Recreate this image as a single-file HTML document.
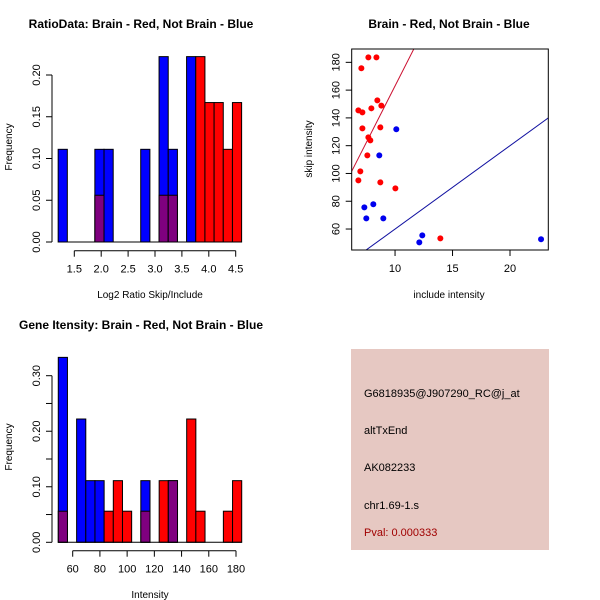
<!DOCTYPE html>
<html><head><meta charset="utf-8"><style>
html,body{margin:0;padding:0;background:#fff;}
svg{display:block;font-family:"Liberation Sans",sans-serif;}
</style></head><body>
<svg id="c" width="600" height="600" viewBox="0 0 600 600">
<rect width="600" height="600" fill="#fff"/>
<text x="141" y="28" text-anchor="middle" font-size="12" font-weight="bold">RatioData: Brain - Red, Not Brain - Blue</text>
<text x="449" y="28" text-anchor="middle" font-size="12" font-weight="bold">Brain - Red, Not Brain - Blue</text>
<text x="141" y="329" text-anchor="middle" font-size="12" font-weight="bold">Gene Itensity: Brain - Red, Not Brain - Blue</text>
<text x="150" y="298" text-anchor="middle" font-size="10">Log2 Ratio Skip/Include</text>
<text x="12" y="147" text-anchor="middle" font-size="10" transform="rotate(-90 12 147)">Frequency</text>
<text x="449" y="298" text-anchor="middle" font-size="10">include intensity</text>
<text x="312" y="149" text-anchor="middle" font-size="10" transform="rotate(-90 312 149)">skip intensity</text>
<text x="150" y="598" text-anchor="middle" font-size="10">Intensity</text>
<text x="12" y="447" text-anchor="middle" font-size="10" transform="rotate(-90 12 447)">Frequency</text>
<g>
<rect x="351" y="349" width="198" height="201" fill="#e6c8c2"/>
<text x="364" y="397" font-size="11">G6818935@J907290_RC@j_at</text>
<text x="364" y="434" font-size="11">altTxEnd</text>
<text x="364" y="471" font-size="11">AK082233</text>
<text x="364" y="509" font-size="11">chr1.69-1.s</text>
<text x="364" y="536" font-size="11" fill="#a00000">Pval: 0.000333</text>
</g>
<g id="g1"></g><g id="g2"></g><g id="g3"></g>
</svg>
<script>
// Ratio histogram data (20 bins starting at 1.2, width 0.1705)
const ratioBlue = [0.111,0,0,0,0.111,0.111,0,0,0,0.111,0,0.222,0.111,0,0.222,0,0,0,0,0];
const ratioRed  = [0,0,0,0,0.056,0,0,0,0,0,0,0.056,0.056,0,0,0.222,0.167,0.167,0.111,0.167];
const ratioXTicks = [1.5,2.0,2.5,3.0,3.5,4.0,4.5];
const ratioXLabels = ["1.5","2.0","2.5","3.0","3.5","4.0","4.5"];
const ratioYTicks = [0,0.05,0.10,0.15,0.20];
const ratioYLabels = ["0.00","0.05","0.10","0.15","0.20"];
// Intensity histogram data (20 bins starting at 49.4, width 6.74)
const intBlue = [0.333,0,0.222,0.111,0.111,0,0,0,0,0.111,0,0,0.111,0,0,0,0,0,0,0];
const intRed  = [0.056,0,0,0,0,0.056,0.111,0.056,0,0.056,0,0.111,0.111,0,0.222,0.056,0,0,0.056,0.111];
const intXTicks = [60,80,100,120,140,160,180];
const intXLabels = ["60","80","100","120","140","160","180"];
const intYTicks = [0,0.05,0.10,0.15,0.20,0.25,0.30];
const intYLabels = ["0.00","","0.10","","0.20","","0.30"];
// Scatter data
const redX = [7.68,8.38,7.07,8.46,7.94,8.81,6.81,7.16,7.16,8.72,7.68,7.85,7.59,6.98,6.81,8.72,10.03,13.94];
const redY = [183.6,183.6,175.7,152.6,146.9,148.8,145.4,144.0,132.5,133.2,126.0,123.8,113.0,101.5,95.0,93.6,89.3,53.3];
const blueX = [10.11,8.63,7.33,8.11,7.5,8.98,12.11,12.37,22.7];
const blueY = [131.8,113.0,75.6,77.8,67.7,67.7,50.4,55.4,52.6];
const redSlope = 16.3, blueSlope = 6.0;
const scXTicks = [10,15,20];
const scYTicks = [60,80,100,120,140,160,180];

const NS="http://www.w3.org/2000/svg";
function mk(parent,tag,attrs){const e=document.createElementNS(NS,tag);for(const k in attrs)e.setAttribute(k,attrs[k]);parent.appendChild(e);return e;}

function hist(g,blue,red,x0,bw,xmin,xmax,xTicks,xLabels,yTicks,yLabels,px0,px1,base,yTop,yTopVal,axY,prefix){
  const sx=v=>px0+(v-xmin)/(xmax-xmin)*(px1-px0);
  const sy=v=>base-(v/yTopVal)*(base-yTop);
  for(let i=0;i<blue.length;i++){
    const l=sx(x0+i*bw), r=sx(x0+(i+1)*bw);
    const b=blue[i], rd=red[i];
    const lo=Math.min(b,rd), hi=Math.max(b,rd);
    if(hi>0){
      const rc=mk(g,'rect',{x:l,y:sy(hi),width:r-l,height:sy(0)-sy(hi),fill:b>=rd?'#0000ff':'#ff0000',stroke:'#000','stroke-width':1});
      
      
    }
    if(lo>0){
      const rc=mk(g,'rect',{x:l,y:sy(lo),width:r-l,height:sy(0)-sy(lo),fill:'#7f007f',stroke:'#000','stroke-width':1});
      
      
    }
  }
  const bl=mk(g,'line',{x1:sx(x0),x2:sx(x0+blue.length*bw),y1:base,y2:base,stroke:'#000'});
  
  
  const xa=mk(g,'line',{x1:sx(xTicks[0]),x2:sx(xTicks[xTicks.length-1]),y1:axY,y2:axY,stroke:'#000'});
  
  
  xTicks.forEach((t,i)=>{
    mk(g,'line',{x1:sx(t),x2:sx(t),y1:axY,y2:axY+6,stroke:'#000'});
    const tx=mk(g,'text',{x:sx(t),y:axY+22,'text-anchor':'middle','font-size':11});
    tx.textContent=xLabels[i];
    
    
  });
  const ax=52;
  const ya=mk(g,'line',{x1:ax,x2:ax,y1:sy(yTicks[0]),y2:sy(yTicks[yTicks.length-1]),stroke:'#000'});
  
  
  yTicks.forEach((t,i)=>{
    mk(g,'line',{x1:ax-6,x2:ax,y1:sy(t),y2:sy(t),stroke:'#000'});
    if(yLabels[i]){
      const tx=mk(g,'text',{x:ax-12,y:sy(t),'text-anchor':'middle','font-size':11,transform:`rotate(-90 ${ax-12} ${sy(t)})`});
      tx.textContent=yLabels[i];
      
      
    }
  });
}
// ratio: x 1.5->74.3, 4.5->235.7
hist(document.getElementById('g1'),ratioBlue,ratioRed,1.2,0.1705,1.5,4.5,ratioXTicks,ratioXLabels,ratioYTicks,ratioYLabels,74.3,235.7,242,75,0.20,250.7,'ratio');
// intensity: 60->72.7, 180->236
hist(document.getElementById('g3'),intBlue,intRed,49.4,6.74,60,180,intXTicks,intXLabels,intYTicks,intYLabels,72.7,236,542.3,375.7,0.30,550.7,'intensity');

// scatter
(function(){
  const g=document.getElementById('g2');
  const L=351.7,R=548.3,T=49,B=250;
  const xmin=6.23,xmax=23.33,ymin=44.9,ymax=189.6;
  const sx=v=>L+(v-xmin)/(xmax-xmin)*(R-L);
  const sy=v=>B-(v-ymin)/(ymax-ymin)*(B-T);
  mk(g,'defs',{}).innerHTML='<clipPath id="cp"><rect x="'+L+'" y="'+T+'" width="'+(R-L)+'" height="'+(B-T)+'"/></clipPath>';
  const ln1=mk(g,'line',{x1:sx(xmin),y1:sy(redSlope*xmin),x2:sx(xmax),y2:sy(redSlope*xmax),stroke:'#cc1030','clip-path':'url(#cp)'});
  
  
  const ln2=mk(g,'line',{x1:sx(xmin),y1:sy(blueSlope*xmin),x2:sx(xmax),y2:sy(blueSlope*xmax),stroke:'#1010a0','clip-path':'url(#cp)'});
  
  
  redX.forEach((x,i)=>{
    const c=mk(g,'circle',{cx:sx(x),cy:sy(redY[i]),r:3,fill:'#ff0000'});
    
    
  });
  blueX.forEach((x,i)=>{
    const c=mk(g,'circle',{cx:sx(x),cy:sy(blueY[i]),r:3,fill:'#0000ee'});
    
    
  });
  const box=mk(g,'rect',{x:L,y:T,width:R-L,height:B-T,fill:'none',stroke:'#000'});
  
  
  scXTicks.forEach(t=>{
    mk(g,'line',{x1:sx(t),x2:sx(t),y1:B,y2:B+6,stroke:'#000'});
    const tx=mk(g,'text',{x:sx(t),y:B+22,'text-anchor':'middle','font-size':11});
    tx.textContent=String(t);
    
    
  });
  scYTicks.forEach(t=>{
    mk(g,'line',{x1:L-6,x2:L,y1:sy(t),y2:sy(t),stroke:'#000'});
    const tx=mk(g,'text',{x:L-12,y:sy(t),'text-anchor':'middle','font-size':11,transform:`rotate(-90 ${L-12} ${sy(t)})`});
    tx.textContent=String(t);
    
    
  });
})();
</script>
</body></html>
